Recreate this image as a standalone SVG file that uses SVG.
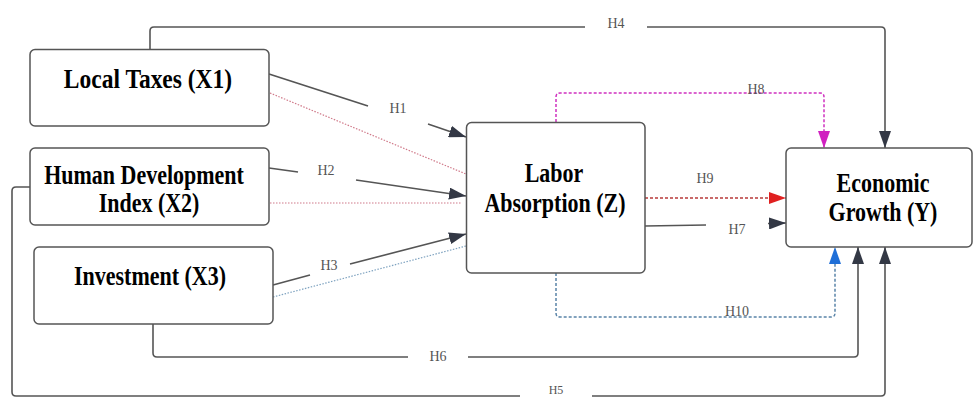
<svg xmlns="http://www.w3.org/2000/svg" width="974" height="399" viewBox="0 0 974 399">
<style>
.box{fill:#fff;stroke:#555;stroke-width:1.5}
.nt{font-family:"Liberation Serif","Times New Roman",serif;font-weight:bold;font-size:22px;fill:#000;text-anchor:middle}
.lb{font-family:"Liberation Serif","Times New Roman",serif;font-size:14px;fill:#555;text-anchor:middle}
.ln{fill:none;stroke:#555;stroke-width:1.6}
.pk{fill:none;stroke:#d07a8a;stroke-width:1.2;stroke-dasharray:1.5 1.5}
.bl{fill:none;stroke:#7fa3c0;stroke-width:1.2;stroke-dasharray:1.5 1.5}
.mg{fill:none;stroke:#d030c0;stroke-width:1.5;stroke-dasharray:3 2}
.rd{fill:none;stroke:#b83a3a;stroke-width:1.5;stroke-dasharray:3 2}
.bd{fill:none;stroke:#5a84a8;stroke-width:1.5;stroke-dasharray:3 2}
</style>
<defs>
<marker id="ad" markerUnits="userSpaceOnUse" markerWidth="18" markerHeight="12" refX="17" refY="6" orient="auto"><path d="M0,0 L17,6 L0,12 z" fill="#333845"/></marker>
<marker id="am" markerUnits="userSpaceOnUse" markerWidth="18" markerHeight="12" refX="17" refY="6" orient="auto"><path d="M0,0 L17,6 L0,12 z" fill="#d020c0"/></marker>
<marker id="ar" markerUnits="userSpaceOnUse" markerWidth="18" markerHeight="12" refX="17" refY="6" orient="auto"><path d="M0,0 L17,6 L0,12 z" fill="#e02020"/></marker>
<marker id="ab" markerUnits="userSpaceOnUse" markerWidth="18" markerHeight="12" refX="17" refY="6" orient="auto"><path d="M0,0 L17,6 L0,12 z" fill="#1f6fd8"/></marker>
</defs>
<rect width="974" height="399" fill="#fff"/>
<g id="connectors">
<!-- H4 -->
<path class="ln" d="M150,49 V31 Q150,27 154,27 H585"/>
<path class="ln" d="M647,27 H881 Q885,27 885,31 V148" marker-end="url(#ad)"/>
<text class="lb" x="616" y="28">H4</text>
<!-- H1 -->
<path class="ln" d="M269,74 L368,106"/>
<path class="ln" d="M428,124 L466,137" marker-end="url(#ad)"/>
<text class="lb" x="398" y="113">H1</text>
<path class="pk" d="M270,93 L466,174"/>
<!-- H2 -->
<path class="ln" d="M269,168 L298,172"/>
<path class="ln" d="M356,180 L466,196" marker-end="url(#ad)"/>
<text class="lb" x="326" y="175">H2</text>
<path class="pk" d="M270,203 L462,203"/>
<!-- H3 -->
<path class="ln" d="M273,285 L310,275"/>
<path class="ln" d="M350,264 L466,234" marker-end="url(#ad)"/>
<text class="lb" x="329" y="270">H3</text>
<path class="bl" d="M273,297 L466,246"/>
<!-- H8 -->
<path class="mg" d="M556,122 V97 Q556,93 560,93 H820 Q824,93 824,97 V148" marker-end="url(#am)"/>
<text class="lb" x="756" y="94" fill="#333">H8</text>
<!-- H9 -->
<path class="rd" d="M645,198 H786" marker-end="url(#ar)"/>
<text class="lb" x="705" y="183">H9</text>
<!-- H7 -->
<path class="ln" d="M645,226 L706,225"/>
<path class="ln" d="M768,223.5 L786,223" marker-end="url(#ad)"/>
<text class="lb" x="737" y="234">H7</text>
<!-- H10 -->
<path class="bd" d="M556,273 V313 Q556,317 560,317 H831 Q835,317 835,313 V247" marker-end="url(#ab)"/>
<text class="lb" x="737" y="316" fill="#333">H10</text>
<!-- H6 -->
<path class="ln" d="M153,324 V353 Q153,357 157,357 H408"/>
<path class="ln" d="M468,357 H854 Q858,357 858,353 V247" marker-end="url(#ad)"/>
<text class="lb" x="438" y="361">H6</text>
<!-- H5 -->
<path class="ln" d="M30,187 H16 Q12,187 12,191 V392 Q12,396 16,396 H520"/>
<path class="ln" d="M592,396 H881 Q885,396 885,392 V247" marker-end="url(#ad)"/>
<text class="lb" x="556" y="394" style="font-size:12px">H5</text>
</g>
<g id="x1">
<rect class="box" x="30" y="49.5" width="239" height="76.5" rx="5"/>
<text class="nt" transform="translate(148,88) scale(1,1.2)" style="font-size:23.5px">Local Taxes (X1)</text>
</g>
<g id="x2">
<rect class="box" x="30" y="148" width="239" height="77" rx="5"/>
<text class="nt" transform="translate(144,184) scale(1,1.2)">Human Development</text>
<text class="nt" transform="translate(149,212) scale(1,1.2)">Index (X2)</text>
</g>
<g id="x3">
<rect class="box" x="34" y="247" width="239" height="77" rx="5"/>
<text class="nt" transform="translate(150,285) scale(1,1.2)">Investment (X3)</text>
</g>
<g id="z">
<rect class="box" x="466.5" y="122.5" width="178.5" height="150.5" rx="5"/>
<text class="nt" transform="translate(554,182) scale(1,1.2)">Labor</text>
<text class="nt" transform="translate(555,212) scale(1,1.2)">Absorption (Z)</text>
</g>
<g id="y">
<rect class="box" x="786" y="148" width="186" height="99" rx="5"/>
<text class="nt" transform="translate(883,192) scale(1,1.2)">Economic</text>
<text class="nt" transform="translate(883,221) scale(1,1.2)">Growth (Y)</text>
</g>
</svg>
